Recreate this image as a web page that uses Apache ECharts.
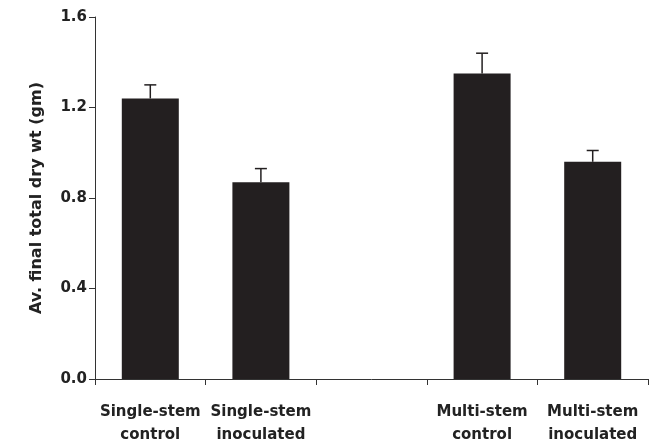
<!DOCTYPE html>
<html>
<head>
<meta charset="utf-8">
<script src="https://cdn.jsdelivr.net/npm/echarts@6/dist/echarts.min.js"></script>
<style>html,body{margin:0;padding:0;background:#fff}#c{width:649px;height:441px}</style>
</head>
<body>
<div id="c"></div>
<script>
const categories = ['Single-stem\ncontrol', 'Single-stem\ninoculated', '', 'Multi-stem\ncontrol', 'Multi-stem\ninoculated'];
const means = [1.24, 0.87, null, 1.35, 0.96];
const upperErr = [1.30, 0.93, null, 1.44, 1.01];
const yTicks = [0.0, 0.4, 0.8, 1.2, 1.6];
const yTitle = 'Av. final total dry wt (gm)';

const FONT = '"DejaVu Sans", sans-serif';
const INK = '#231f20';

const chart = echarts.init(document.getElementById('c'));
const errData = [];
categories.forEach((c, i) => { if (means[i] != null) errData.push([i, means[i], upperErr[i]]); });

chart.setOption({
  animation: false,
  grid: { left: 95, right: 1, top: 17, bottom: 62, containLabel: false, outerBoundsMode: 'none' },
  xAxis: {
    type: 'category',
    data: categories,
    boundaryGap: true,
    axisLine: { lineStyle: { color: '#333', width: 1 } },
    axisTick: { show: true, length: 6, inside: false, alignWithLabel: false, lineStyle: { color: '#333' } },
    axisLabel: { color: '#222', fontFamily: FONT, fontWeight: 'bold', fontSize: 15, lineHeight: 23, margin: 22, interval: 0 },
    splitLine: { show: false }
  },
  yAxis: {
    type: 'value',
    min: yTicks[0], max: yTicks[yTicks.length - 1], interval: 0.4,
    name: yTitle,
    nameLocation: 'middle',
    nameGap: 50,
    nameTextStyle: { color: '#222', fontFamily: FONT, fontWeight: 'bold', fontSize: 16 },
    axisLine: { show: true, lineStyle: { color: '#333', width: 1 } },
    axisTick: { show: true, length: 6, lineStyle: { color: '#333' } },
    axisLabel: { color: '#222', fontFamily: FONT, fontWeight: 'bold', fontSize: 15, margin: 8, formatter: v => v.toFixed(1) },
    splitLine: { show: false }
  },
  series: [
    {
      type: 'bar',
      data: means,
      barWidth: 57,
      itemStyle: { color: INK },
      z: 2
    },
    {
      type: 'custom',
      data: errData,
      z: 3,
      renderItem: function (params, api) {
        const x = api.value(0);
        const lo = api.coord([x, api.value(1)]);
        const hi = api.coord([x, api.value(2)]);
        const half = 6;
        return {
          type: 'group',
          children: [
            { type: 'line', shape: { x1: lo[0], y1: lo[1], x2: hi[0], y2: hi[1] }, style: { stroke: INK, lineWidth: 1.5 } },
            { type: 'line', shape: { x1: hi[0] - half, y1: hi[1], x2: hi[0] + half, y2: hi[1] }, style: { stroke: INK, lineWidth: 1.5 } }
          ]
        };
      }
    }
  ]
});
</script>
</body>
</html>
